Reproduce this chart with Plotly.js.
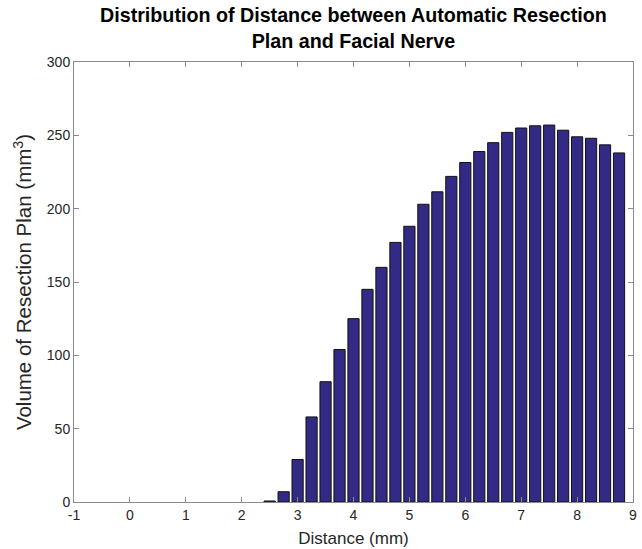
<!DOCTYPE html>
<html>
<head>
<meta charset="utf-8">
<script src="https://cdn.plot.ly/plotly-3.0.1.min.js"></script>
<style>html,body{margin:0;padding:0;background:#fff;}#chart{width:642px;height:549px;}</style>
</head>
<body>
<div id="chart"></div>
<script>
var distances = [2.5, 2.75, 3.0, 3.25, 3.5, 3.75, 4.0, 4.25, 4.5, 4.75, 5.0, 5.25, 5.5, 5.75, 6.0, 6.25, 6.5, 6.75, 7.0, 7.25, 7.5, 7.75, 8.0, 8.25, 8.5, 8.75];
var volumes = [0.7, 7, 29, 58, 82, 104, 125, 145, 160, 177, 188, 203, 211.5, 222, 231.5, 239, 245, 252, 255, 256.5, 257, 253.5, 249, 248, 243.5, 238];
var xTicks = [-1, 0, 1, 2, 3, 4, 5, 6, 7, 8, 9];
var yTicks = [0, 50, 100, 150, 200, 250, 300];
var titleText = '<b>Distribution of Distance between Automatic Resection<br>Plan and Facial Nerve</b>';

var FONT = 'Liberation Sans, Arial, sans-serif';
var trace = {
  type: 'bar',
  x: distances,
  y: volumes,
  width: 0.2,
  marker: {color: '#332a85', line: {color: '#111111', width: 1}},
  hoverinfo: 'x+y'
};
var axisCommon = {
  showline: true, mirror: 'ticks', linecolor: '#8a8a8a', linewidth: 1,
  ticks: 'inside', ticklen: 5, tickcolor: '#8a8a8a', tickwidth: 1,
  showgrid: false, zeroline: false,
  tickfont: {family: FONT, size: 14, color: '#262626'}
};
var layout = {
  width: 642, height: 549,
  margin: {l: 74, r: 9, t: 62, b: 47},
  paper_bgcolor: '#ffffff', plot_bgcolor: '#ffffff',
  showlegend: false,
  annotations: [{
    text: titleText, xref: 'paper', yref: 'paper', x: 0.5, y: 1.137,
    xanchor: 'center', yanchor: 'top', showarrow: false,
    font: {family: FONT, size: 19.7, color: '#000'}
  }],
  xaxis: Object.assign({}, axisCommon, {
    range: [-1, 9], tickvals: xTicks, ticktext: xTicks.map(String),
    title: {text: 'Distance (mm)', font: {family: FONT, size: 17, color: '#262626'}, standoff: 10}
  }),
  yaxis: Object.assign({}, axisCommon, {
    range: [0, 300], tickvals: yTicks, ticktext: yTicks.map(String),
    title: {text: 'Volume of Resection Plan (mm<sup>3</sup>)', font: {family: FONT, size: 20.5, color: '#262626'}, standoff: 9}
  })
};
Plotly.newPlot('chart', [trace], layout, {displayModeBar: false, staticPlot: true});
</script>
</body>
</html>
